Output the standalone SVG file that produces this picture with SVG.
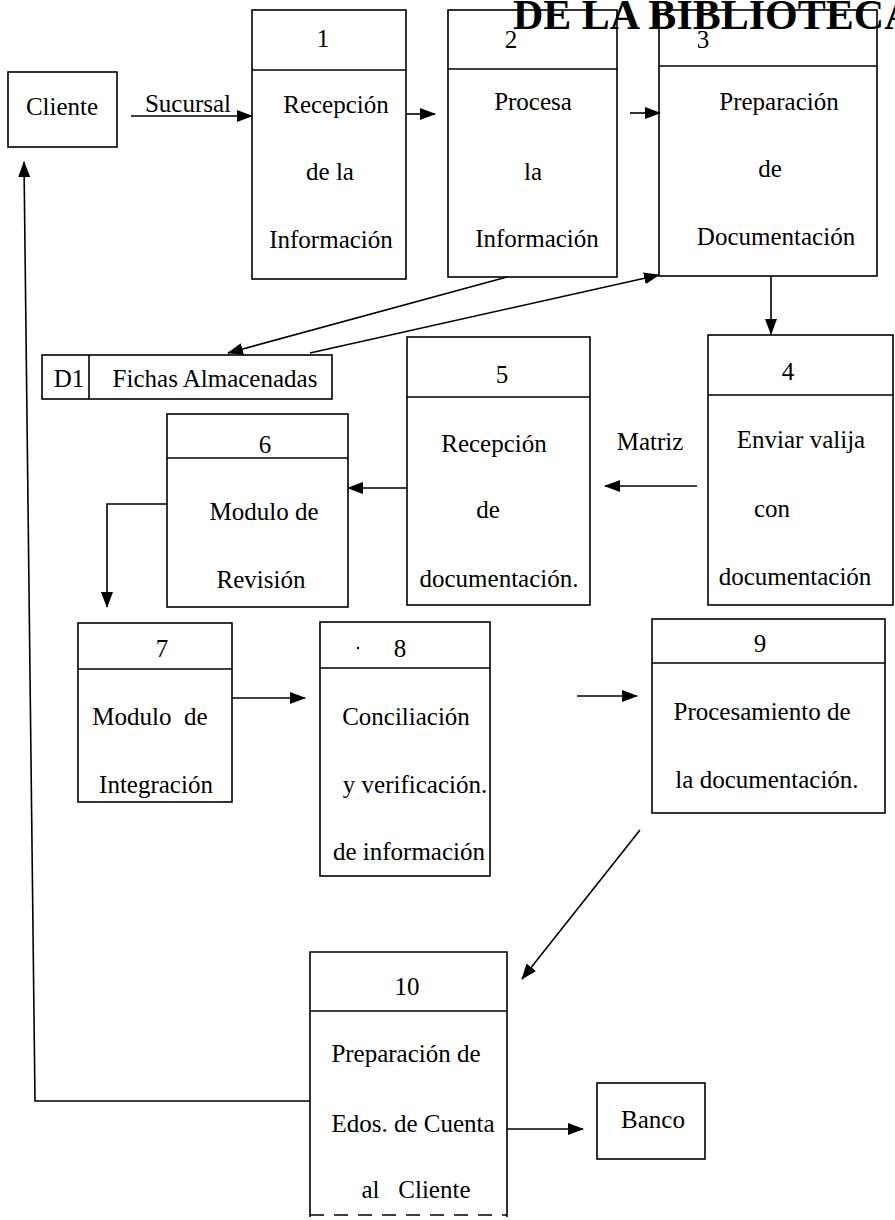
<svg xmlns="http://www.w3.org/2000/svg" width="895" height="1220" viewBox="0 0 895 1220">
<defs>
<marker id="ah" markerUnits="userSpaceOnUse" markerWidth="16" markerHeight="12" refX="15" refY="6" orient="auto">
<path d="M0,0 L16,6 L0,12 Z" fill="#000"/>
</marker>
</defs>
<style>
.b{fill:#fff;stroke:#000;stroke-width:1.6}
.d{stroke:#000;stroke-width:1.6;fill:none}
.c{stroke:#000;stroke-width:1.6;fill:none;marker-end:url(#ah)}
text{font-family:"Liberation Serif","Times New Roman",serif;font-size:25px;fill:#000;text-anchor:middle;white-space:pre}
.t{font-size:42px;font-weight:bold;text-anchor:start}
</style>
<rect width="895" height="1220" fill="#fff"/>

<g id="cliente">
<rect class="b" x="8" y="72" width="109" height="75"/>
<text x="62" y="115">Cliente</text>
</g>

<g id="p1">
<rect class="b" x="252" y="10" width="154" height="269"/>
<line class="d" x1="252" y1="70" x2="406" y2="70"/>
<text x="323" y="47">1</text>
<text x="336" y="113">Recepción</text>
<text x="330" y="180">de la</text>
<text x="331" y="248">Información</text>
</g>

<g id="p2">
<rect class="b" x="448" y="10" width="169" height="267"/>
<line class="d" x1="448" y1="69" x2="617" y2="69"/>
<text x="511" y="48">2</text>
<text x="533" y="110">Procesa</text>
<text x="533" y="180">la</text>
<text x="537" y="247">Información</text>
</g>

<g id="p3">
<rect class="b" x="659" y="10" width="218" height="266"/>
<line class="d" x1="659" y1="66" x2="877" y2="66"/>
<text x="703" y="48">3</text>
<text x="779" y="110">Preparación</text>
<text x="770" y="177">de</text>
<text x="776" y="245">Documentación</text>
</g>

<g id="title">
<text class="t" x="513" y="29">DE LA BIBLIOTECA</text>
</g>

<g id="d1">
<rect class="b" x="42" y="355" width="290" height="44"/>
<line class="d" x1="89" y1="355" x2="89" y2="399"/>
<text x="69" y="387">D1</text>
<text x="215" y="387">Fichas Almacenadas</text>
</g>

<g id="p4">
<rect class="b" x="708" y="335" width="185" height="270"/>
<line class="d" x1="708" y1="395" x2="893" y2="395"/>
<text x="788" y="380">4</text>
<text x="801" y="448">Enviar valija</text>
<text x="772" y="517">con</text>
<text x="795" y="585">documentación</text>
</g>

<g id="p5">
<rect class="b" x="407" y="337" width="183" height="268"/>
<line class="d" x1="407" y1="397" x2="590" y2="397"/>
<text x="502" y="383">5</text>
<text x="494" y="452">Recepción</text>
<text x="488" y="518">de</text>
<text x="499" y="587">documentación.</text>
</g>

<g id="p6">
<rect class="b" x="167" y="414" width="181" height="193"/>
<line class="d" x1="167" y1="458" x2="348" y2="458"/>
<text x="265" y="453">6</text>
<text x="264" y="520">Modulo de</text>
<text x="261" y="588">Revisión</text>
</g>

<g id="p7">
<rect class="b" x="78" y="623" width="154" height="179"/>
<line class="d" x1="78" y1="669" x2="232" y2="669"/>
<text x="162" y="657">7</text>
<text x="150" y="725">Modulo  de</text>
<text x="156" y="793">Integración</text>
</g>

<g id="p8">
<rect class="b" x="320" y="622" width="170" height="254"/>
<line class="d" x1="320" y1="668" x2="490" y2="668"/>
<circle cx="358" cy="648" r="1.2" fill="#000"/>
<text x="400" y="657">8</text>
<text x="406" y="725">Conciliación</text>
<text x="415" y="793">y verificación.</text>
<text x="409" y="860">de información</text>
</g>

<g id="p9">
<rect class="b" x="652" y="619" width="233" height="194"/>
<line class="d" x1="652" y1="663" x2="885" y2="663"/>
<text x="760" y="652">9</text>
<text x="762" y="720">Procesamiento de</text>
<text x="767" y="788">la documentación.</text>
</g>

<g id="p10">
<path class="d" d="M310,1217 L310,952 L507,952 L507,1217"/>
<line class="d" x1="310" y1="1215" x2="507" y2="1215" stroke-dasharray="14,10"/>
<line class="d" x1="310" y1="1011" x2="507" y2="1011"/>
<text x="407" y="995">10</text>
<text x="406" y="1062">Preparación de</text>
<text x="413" y="1132">Edos. de Cuenta</text>
<text x="416" y="1198">al   Cliente</text>
</g>

<g id="banco">
<rect class="b" x="597" y="1083" width="108" height="76"/>
<text x="653" y="1128">Banco</text>
</g>

<g id="connectors">
<line class="c" x1="131" y1="116" x2="252" y2="116"/>
<text x="188" y="112">Sucursal</text>
<line class="c" x1="406" y1="114" x2="435" y2="114"/>
<line class="c" x1="630" y1="113" x2="660" y2="113"/>
<line class="c" x1="507" y1="277" x2="228" y2="353"/>
<line class="c" x1="310" y1="353" x2="659" y2="275"/>
<line class="c" x1="771" y1="276" x2="771" y2="334"/>
<line class="c" x1="697" y1="486" x2="605" y2="486"/>
<text x="650" y="450">Matriz</text>
<line class="c" x1="407" y1="488" x2="348" y2="488"/>
<path class="c" d="M167,504 L107,504 L107,607"/>
<line class="c" x1="232" y1="698" x2="305" y2="698"/>
<line class="c" x1="577" y1="696" x2="637" y2="696"/>
<line class="c" x1="640" y1="830" x2="522" y2="979"/>
<path class="c" d="M310,1101 L35,1101 L24,162"/>
<line class="c" x1="507" y1="1129" x2="583" y2="1129"/>
</g>
</svg>
